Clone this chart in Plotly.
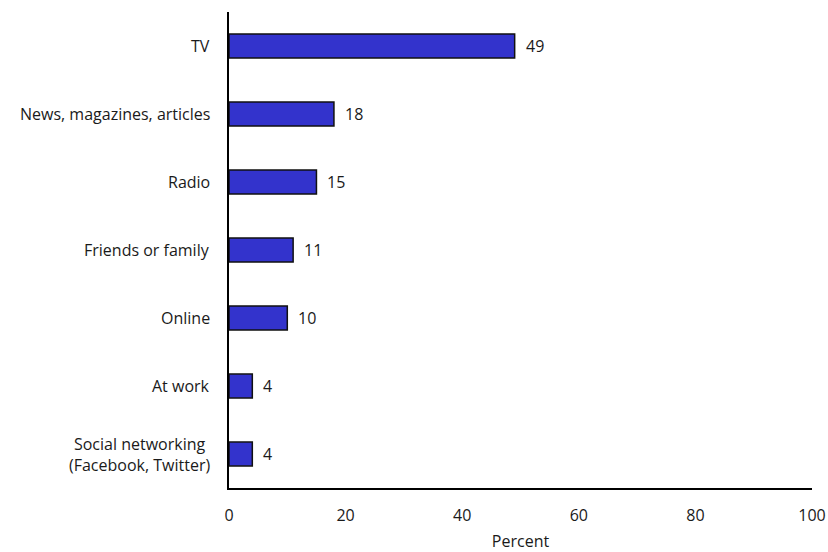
import plotly.graph_objects as go

categories = ["TV", "News, magazines, articles", "Radio", "Friends or family",
              "Online", "At work", "Social networking<br>(Facebook, Twitter)"]
values = [49, 18, 15, 11, 10, 4, 4]
x_ticks = [0, 20, 40, 60, 80, 100]

font_family = "'Open Sans', sans-serif"
text_color = "#1a1a1a"
fsize = 16

fig = go.Figure(go.Bar(
    y=categories,
    x=values,
    orientation="h",
    width=0.35,
    marker=dict(color="#3333CC", line=dict(color="#111111", width=1.5)),
    hoverinfo="x+y",
))

# value labels to the right of each bar
for c, v in zip(categories, values):
    fig.add_annotation(x=v, y=c, text=str(v), showarrow=False,
                       xanchor="left", xshift=9,
                       font=dict(family=font_family, size=fsize, color=text_color))

# category labels (centered multi-line like the reference)
for c in categories:
    fig.add_annotation(x=0, y=c, text=c, showarrow=False,
                       xanchor="right", xshift=-17, align="center",
                       font=dict(family=font_family, size=fsize, color=text_color))

fig.update_layout(
    width=828, height=552,
    margin=dict(l=229, r=16, t=12, b=64, autoexpand=False),
    plot_bgcolor="white", paper_bgcolor="white",
    font=dict(family=font_family, size=fsize, color=text_color),
    showlegend=False,
)
fig.update_xaxes(
    range=[0, 100], tickvals=x_ticks, showgrid=False, zeroline=False,
    showline=True, linecolor="black", linewidth=2, ticks="",
    ticklabelstandoff=12, automargin=False,
    title=dict(text="Percent", font=dict(size=fsize), standoff=16),
)
fig.update_yaxes(
    categoryorder="array", categoryarray=categories[::-1],
    range=[-0.5, 6.5], showticklabels=False,
    showgrid=False, zeroline=False,
    showline=True, linecolor="black", linewidth=2, ticks="",
    automargin=False,
)

fig.write_html(
    "out.html",
    config={"displayModeBar": False},
    post_script="document.body.style.margin='0';document.body.style.overflow='hidden';",
)
